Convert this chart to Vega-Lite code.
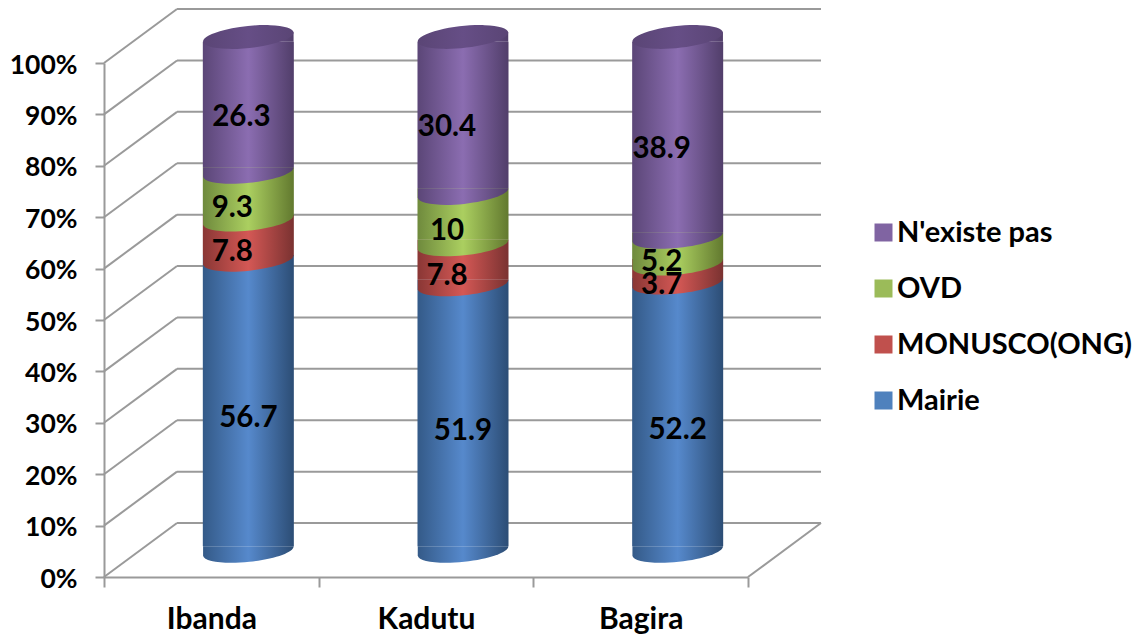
{
"$schema":"https://vega.github.io/schema/vega-lite/v6.json",
"autosize":{"type":"none"},
"width":644,"height":514,
"padding":{"left":104,"top":63,"right":385,"bottom":57},
"background":"white",
"config":{"view":{"stroke":null},"font":"Lato","text":{"font":"Lato"}},
"datasets":{
"walls":[
{"a":0,"b":1,"p":0,"q":0.105},{"a":0,"b":1,"p":0.1,"q":0.205},{"a":0,"b":1,"p":0.2,"q":0.305},{"a":0,"b":1,"p":0.3,"q":0.405},{"a":0,"b":1,"p":0.4,"q":0.505},{"a":0,"b":1,"p":0.5,"q":0.605},{"a":0,"b":1,"p":0.6,"q":0.705},{"a":0,"b":1,"p":0.7,"q":0.805},{"a":0,"b":1,"p":0.8,"q":0.905},{"a":0,"b":1,"p":0.9,"q":1.005},{"a":0,"b":1,"p":1,"q":1.105},
{"a":1,"b":9.82,"p":0.105,"q":0.105},{"a":1,"b":9.82,"p":0.205,"q":0.205},{"a":1,"b":9.82,"p":0.305,"q":0.305},{"a":1,"b":9.82,"p":0.405,"q":0.405},{"a":1,"b":9.82,"p":0.505,"q":0.505},{"a":1,"b":9.82,"p":0.605,"q":0.605},{"a":1,"b":9.82,"p":0.705,"q":0.705},{"a":1,"b":9.82,"p":0.805,"q":0.805},{"a":1,"b":9.82,"p":0.905,"q":0.905},{"a":1,"b":9.82,"p":1.005,"q":1.005},{"a":1,"b":9.82,"p":1.105,"q":1.105},
{"a":8.82,"b":9.82,"p":0,"q":0.105}
],
"rows":[
{"lieu":"Ibanda","source":"Mairie","valeur":56.7,"rang":1},
{"lieu":"Ibanda","source":"MONUSCO(ONG)","valeur":7.8,"rang":2},
{"lieu":"Ibanda","source":"OVD","valeur":9.3,"rang":3},
{"lieu":"Ibanda","source":"N'existe pas","valeur":26.3,"rang":4},
{"lieu":"Kadutu","source":"Mairie","valeur":51.9,"rang":1},
{"lieu":"Kadutu","source":"MONUSCO(ONG)","valeur":7.8,"rang":2},
{"lieu":"Kadutu","source":"OVD","valeur":10,"rang":3},
{"lieu":"Kadutu","source":"N'existe pas","valeur":30.4,"rang":4},
{"lieu":"Bagira","source":"Mairie","valeur":52.2,"rang":1},
{"lieu":"Bagira","source":"MONUSCO(ONG)","valeur":3.7,"rang":2},
{"lieu":"Bagira","source":"OVD","valeur":5.2,"rang":3},
{"lieu":"Bagira","source":"N'existe pas","valeur":38.9,"rang":4}
]},
"resolve":{"scale":{"x":"independent"},"axis":{"x":"independent"}},
"layer":[
{"data":{"name":"walls"},
 "mark":{"type":"rule","color":"#9a9a9a","strokeWidth":2,"clip":false},
 "encoding":{
  "x":{"field":"a","type":"quantitative","axis":null,"scale":{"domain":[0,9.82],"range":[0,717]}},
  "x2":{"field":"b"},
  "y":{"field":"p","type":"quantitative","title":null,"scale":{"domain":[0,1],"nice":false},
   "axis":{"values":[0,0.1,0.2,0.3,0.4,0.5,0.6,0.7,0.8,0.9,1],"format":".0%","grid":false,"domainColor":"#9a9a9a","domainWidth":2,"tickColor":"#9a9a9a","tickWidth":2,"tickSize":9,"labelPadding":18,"labelOffset":2,"labelFont":"Lato","labelFontWeight":"bold","labelFontSize":26.5,"labelColor":"#000000"}},
  "y2":{"field":"q"}}
},
{"data":{"name":"rows"},
 "transform":[
  {"stack":"valeur","groupby":["lieu"],"sort":[{"field":"rang","order":"ascending"}],"offset":"normalize","as":["bas","haut"]},
  {"calculate":"(datum.bas+datum.haut)/2","as":"milieu"}
 ],
 "encoding":{
  "x":{"field":"lieu","type":"nominal","sort":["Ibanda","Kadutu","Bagira"],"title":null,
   "scale":{"type":"band","paddingInner":0,"paddingOuter":0},
   "axis":{"tickBand":"extent","labelAngle":0,"domainColor":"#9a9a9a","domainWidth":2,"tickColor":"#9a9a9a","tickWidth":2,"tickSize":10,"labelPadding":17,"labelFont":"Lato","labelFontWeight":"bold","labelFontSize":30,"labelColor":"#000000"}}
 },
 "layer":[
  {"mark":{"type":"square","opacity":0,"size":1},
   "encoding":{
    "y":{"field":"bas","type":"quantitative","title":null},
    "color":{"field":"source","type":"nominal",
     "scale":{"domain":["N'existe pas","OVD","MONUSCO(ONG)","Mairie"],"range":["#8064a2","#9bbb59","#c0504d","#4f81bd"]},
     "legend":{"orient":"none","legendX":765,"legendY":155,"title":null,"symbolType":"square","symbolSize":324,"symbolOpacity":1,"symbolStrokeWidth":0,"labelFont":"Lato","labelFontWeight":"bold","labelFontSize":29,"labelColor":"#000000","rowPadding":26,"labelOffset":-1,"labelLimit":300}}}
  },
  {"transform":[{"filter":"datum.rang==1"}],
   "mark":{"type":"bar","xOffset":37,"yOffset":-30.75,"y2Offset":-30.75,"width":{"band":0.424},
    "fill":{"gradient":"linear","x1":0,"x2":1,"y1":0,"y2":0,"stops":[{"offset":0,"color":"#345a88"},{"offset":0.5,"color":"#5689cc"},{"offset":1,"color":"#2c4d75"}]}},
   "encoding":{"y":{"field":"bas","type":"quantitative","title":null},"y2":{"field":"haut"}}
  },
  {"transform":[{"filter":"datum.rang==2"}],
   "mark":{"type":"bar","xOffset":37,"yOffset":-30.75,"y2Offset":-30.75,"width":{"band":0.424},
    "fill":{"gradient":"linear","x1":0,"x2":1,"y1":0,"y2":0,"stops":[{"offset":0,"color":"#8a3735"},{"offset":0.5,"color":"#d45855"},{"offset":1,"color":"#7a3231"}]}},
   "encoding":{"y":{"field":"bas","type":"quantitative","title":null},"y2":{"field":"haut"}}
  },
  {"transform":[{"filter":"datum.rang==3"}],
   "mark":{"type":"bar","xOffset":37,"yOffset":-30.75,"y2Offset":-30.75,"width":{"band":0.424},
    "fill":{"gradient":"linear","x1":0,"x2":1,"y1":0,"y2":0,"stops":[{"offset":0,"color":"#6f8a3d"},{"offset":0.5,"color":"#abcf60"},{"offset":1,"color":"#62792f"}]}},
   "encoding":{"y":{"field":"bas","type":"quantitative","title":null},"y2":{"field":"haut"}}
  },
  {"transform":[{"filter":"datum.rang==4"}],
   "mark":{"type":"bar","xOffset":37,"yOffset":-30.75,"y2Offset":-21.25,"width":{"band":0.424},
    "fill":{"gradient":"linear","x1":0,"x2":1,"y1":0,"y2":0,"stops":[{"offset":0,"color":"#5b4677"},{"offset":0.5,"color":"#8b6db1"},{"offset":1,"color":"#513e6a"}]}},
   "encoding":{"y":{"field":"bas","type":"quantitative","title":null},"y2":{"field":"haut"}}
  },
  {"transform":[{"filter":"datum.rang==1"}],
   "mark":{"type":"point","filled":true,"opacity":1,"xOffset":37,"yOffset":-26,"size":8281,"shape":"M-0.9945,-0.1045L0.9945,-0.1045A1,0.24,-6,0,1,-0.9945,0.1045Z",
    "fill":{"gradient":"linear","x1":0,"x2":1,"y1":0,"y2":0,"stops":[{"offset":0,"color":"#345a88"},{"offset":0.5,"color":"#5689cc"},{"offset":1,"color":"#2c4d75"}]}},
   "encoding":{"y":{"field":"bas","type":"quantitative","title":null}}
  },
  {"transform":[{"filter":"datum.rang==2"}],
   "mark":{"type":"point","filled":true,"opacity":1,"xOffset":37,"yOffset":-26,"size":8281,"shape":"M-0.9945,-0.1045L0.9945,-0.1045A1,0.24,-6,0,1,-0.9945,0.1045Z",
    "fill":{"gradient":"linear","x1":0,"x2":1,"y1":0,"y2":0,"stops":[{"offset":0,"color":"#8a3735"},{"offset":0.5,"color":"#d45855"},{"offset":1,"color":"#7a3231"}]}},
   "encoding":{"y":{"field":"bas","type":"quantitative","title":null}}
  },
  {"transform":[{"filter":"datum.rang==3"}],
   "mark":{"type":"point","filled":true,"opacity":1,"xOffset":37,"yOffset":-26,"size":8281,"shape":"M-0.9945,-0.1045L0.9945,-0.1045A1,0.24,-6,0,1,-0.9945,0.1045Z",
    "fill":{"gradient":"linear","x1":0,"x2":1,"y1":0,"y2":0,"stops":[{"offset":0,"color":"#6f8a3d"},{"offset":0.5,"color":"#abcf60"},{"offset":1,"color":"#62792f"}]}},
   "encoding":{"y":{"field":"bas","type":"quantitative","title":null}}
  },
  {"transform":[{"filter":"datum.rang==4"}],
   "mark":{"type":"point","filled":true,"opacity":1,"xOffset":37,"yOffset":-26,"size":8281,"shape":"M-0.9945,-0.1045L0.9945,-0.1045A1,0.24,-6,0,1,-0.9945,0.1045Z",
    "fill":{"gradient":"linear","x1":0,"x2":1,"y1":0,"y2":0,"stops":[{"offset":0,"color":"#5b4677"},{"offset":0.5,"color":"#8b6db1"},{"offset":1,"color":"#513e6a"}]}},
   "encoding":{"y":{"field":"bas","type":"quantitative","title":null}}
  },
  {"transform":[{"filter":"datum.rang==4"}],
   "mark":{"type":"point","filled":true,"opacity":1,"xOffset":37,"yOffset":-26,"size":8281,"shape":"M-0.9945,0.1045L0.9945,-0.1045L0.9945,0.1045Z",
    "fill":{"gradient":"linear","x1":0,"x2":1,"y1":0,"y2":0,"stops":[{"offset":0,"color":"#5b4677"},{"offset":0.5,"color":"#8b6db1"},{"offset":1,"color":"#513e6a"}]}},
   "encoding":{"y":{"field":"haut","type":"quantitative","title":null}}
  },
  {"transform":[{"filter":"datum.rang==4"}],
   "mark":{"type":"point","filled":true,"opacity":1,"xOffset":37,"yOffset":-26,"size":8281,"shape":"M-0.9945,0.1045A1,0.24,-6,1,0,0.9945,-0.1045A1,0.24,-6,1,0,-0.9945,0.1045Z",
    "fill":{"gradient":"linear","x1":0,"x2":1,"y1":0,"y2":0,"stops":[{"offset":0,"color":"#5a4575"},{"offset":0.5,"color":"#664e86"},{"offset":1,"color":"#5a4575"}]}},
   "encoding":{"y":{"field":"haut","type":"quantitative","title":null}}
  },
  {"transform":[{"filter":"datum.rang==1"}],
   "mark":{"type":"text","font":"Lato","fontWeight":"bold","fontSize":29.5,"color":"#000000","xOffset":37,"yOffset":-13},
   "encoding":{"y":{"field":"milieu","type":"quantitative","title":null},"text":{"field":"valeur","type":"nominal"}}
  },
  {"transform":[{"filter":"datum.rang>1 && !(datum.rang==4 && datum.lieu=='Ibanda')"}],
   "mark":{"type":"text","font":"Lato","fontWeight":"bold","fontSize":29.5,"color":"#000000","xOffset":21,"yOffset":-14},
   "encoding":{"y":{"field":"milieu","type":"quantitative","title":null},"text":{"field":"valeur","type":"nominal"}}
  },
  {"transform":[{"filter":"datum.rang==4 && datum.lieu=='Ibanda'"}],
   "mark":{"type":"text","font":"Lato","fontWeight":"bold","fontSize":29.5,"color":"#000000","xOffset":30,"yOffset":-14},
   "encoding":{"y":{"field":"milieu","type":"quantitative","title":null},"text":{"field":"valeur","type":"nominal"}}
  }
 ]
}
]
}
